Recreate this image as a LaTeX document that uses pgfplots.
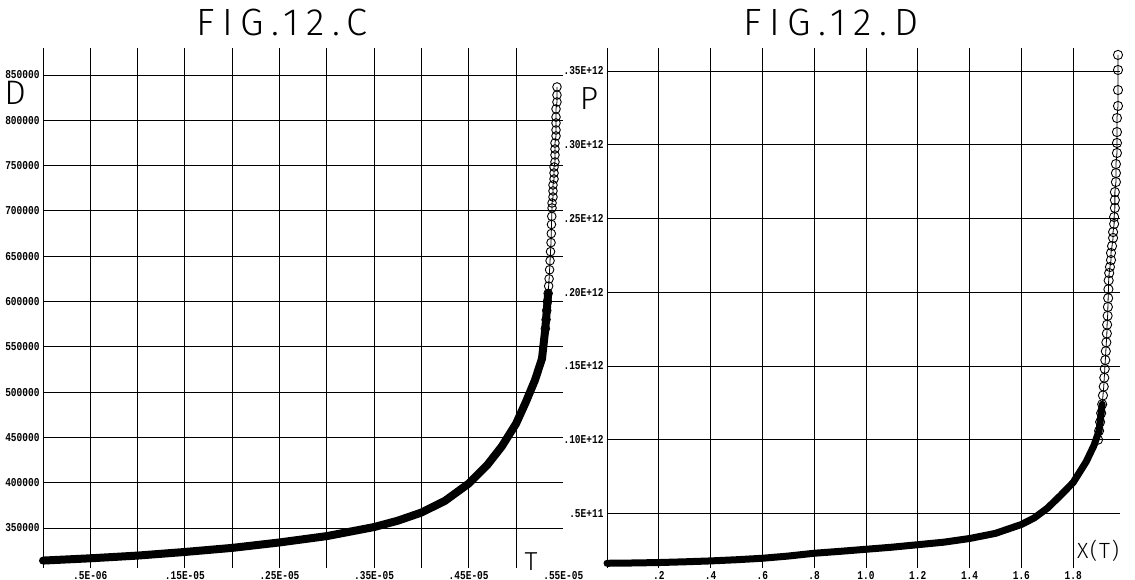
\documentclass[border=0pt]{standalone}
\usepackage{pgfplots}
\pgfplotsset{compat=1.18}
\usepackage{fontspec}
\setmainfont{Liberation Sans}
\newfontfamily\ticklab{Liberation Mono}
\newfontfamily\thin{Fira Sans Light}[LetterSpace=20]
\newfontfamily\thinb{Fira Sans Light}[LetterSpace=8]
\newcommand\tl[1]{\scalebox{0.95}[1.2]{\ticklab\bfseries\fontsize{10bp}{11bp}\selectfont #1}}

\pgfplotstableread{
T D
0.0 314000
0.5 316500
1.0 319500
1.5 323500
2.0 328000
2.5 334000
3.0 341000
3.5 351000
3.75 358000
4.0 367000
4.25 380000
4.5 399000
4.7 420000
4.85 440000
5.0 465000
5.1 488000
5.2 513000
5.275 537000
5.31 570000
5.34 609000
}\leftband

\pgfplotstableread{
T D
5.31 570000
5.318 580000
5.325 590000
5.333 600000
5.34 609000
5.345 617000
5.35 625000
5.355 635000
5.36 645000
5.365 655000
5.37 665000
5.373 675000
5.375 685000
5.378 694000
5.381 703200
5.381 708700
5.391 715300
5.391 722000
5.391 728600
5.402 735200
5.402 741800
5.402 748400
5.412 754000
5.412 761700
5.412 768300
5.412 774900
5.423 782700
5.423 789300
5.423 797000
5.423 803600
5.423 812500
5.433 820200
5.433 827900
5.433 836800
}\leftcirc

\pgfplotstableread{
X P
0.00 0.0162
0.10 0.0164
0.20 0.0167
0.30 0.0172
0.40 0.0178
0.50 0.0186
0.60 0.0196
0.70 0.0211
0.80 0.0230
0.90 0.0243
1.00 0.0257
1.10 0.0271
1.20 0.0288
1.30 0.0305
1.40 0.0330
1.50 0.0365
1.60 0.0425
1.65 0.0470
1.70 0.0535
1.75 0.0620
1.80 0.0710
1.85 0.0850
1.88 0.0960
1.90 0.1060
1.912 0.1240
}\rightband

\pgfplotstableread{
X P
1.896 0.100
1.900 0.106
1.904 0.112
1.908 0.118
1.912 0.124
1.915 0.130
1.918 0.136
1.920 0.142
1.922 0.148
1.924 0.154
1.926 0.160
1.928 0.166
1.930 0.172
1.931 0.178
1.933 0.184
1.934 0.190
1.935 0.196
1.936 0.202
1.937 0.208
1.939 0.213
1.942 0.2171
1.946 0.2218
1.946 0.2266
1.950 0.2313
1.954 0.2368
1.954 0.2408
1.958 0.2463
1.958 0.2510
1.961 0.2571
1.961 0.2625
1.961 0.2679
1.965 0.2747
1.965 0.2808
1.965 0.2869
1.969 0.2944
1.969 0.3012
1.969 0.3086
1.969 0.3181
1.973 0.3263
1.973 0.3371
1.973 0.3507
1.973 0.3609
}\rightcirc

\begin{document}
\begin{tikzpicture}
\useasboundingbox (0bp,0bp) rectangle (1135bp,580bp);

\begin{axis}[
  at={(43bp,12bp)}, anchor=south west, scale only axis,
  width=520.3bp, height=520bp,
  xmin=0, xmax=5.5, ymin=305800, ymax=879800,
  axis line style={draw=none},
  major tick length=0pt,
  xtick={0,0.5,1,1.5,2,2.5,3,3.5,4,4.5,5},
  xticklabels={},
  extra x ticks={0.5,1.5,2.5,3.5,4.5,5.5},
  extra x tick labels={\tl{.5E-06},\tl{.15E-05},\tl{.25E-05},\tl{.35E-05},\tl{.45E-05},\tl{.55E-05}},
  extra x tick style={grid=none, major tick length=0pt},
  ytick={350000,400000,450000,500000,550000,600000,650000,700000,750000,800000,850000},
  yticklabels={\tl{350000},\tl{400000},\tl{450000},\tl{500000},\tl{550000},\tl{600000},\tl{650000},\tl{700000},\tl{750000},\tl{800000},\tl{850000}},
  scaled ticks=false,
  grid=major, major grid style={black, line width=0.9bp},
  clip=false,
]
\addplot[black, line width=8bp, line cap=round, line join=round] table[x=T,y=D] {\leftband};
\addplot[black, line width=0.8bp, mark=o, mark size=4.3bp, mark options={line width=0.9bp}] table[x=T,y=D] {\leftcirc};
\end{axis}

\begin{axis}[
  at={(607bp,12bp)}, anchor=south west, scale only axis,
  width=512.8bp, height=520bp,
  xmin=0, xmax=1.98, ymin=0.0130, ymax=0.3656,
  axis line style={draw=none},
  major tick length=0pt,
  xtick={0,0.2,0.4,0.6,0.8,1.0,1.2,1.4,1.6,1.8},
  xticklabels={{},\tl{.2},\tl{.4},\tl{.6},\tl{.8},\tl{1.0},\tl{1.2},\tl{1.4},\tl{1.6},\tl{1.8}},
  ytick={0.05,0.10,0.15,0.20,0.25,0.30,0.35},
  yticklabels={\tl{.5E+11},\tl{.10E+12},\tl{.15E+12},\tl{.20E+12},\tl{.25E+12},\tl{.30E+12},\tl{.35E+12}},
  scaled ticks=false,
  grid=major, major grid style={black, line width=0.9bp},
  clip=false,
]
\addplot[black, line width=7bp, line cap=round, line join=round] table[x=X,y=P] {\rightband};
\addplot[black, line width=0.8bp, mark=o, mark size=4.6bp, mark options={line width=0.9bp}] table[x=X,y=P] {\rightcirc};
\end{axis}

\node[font=\thin\fontsize{38bp}{42bp}\selectfont, inner sep=0] at (282bp,558bp) {FIG.12.C};
\node[font=\thin\fontsize{38bp}{42bp}\selectfont, inner sep=0] at (831bp,558bp) {FIG.12.D};
\node[font=\thin\fontsize{34bp}{38bp}\selectfont, inner sep=0] at (15bp,487bp) {D};
\node[font=\thin\fontsize{32bp}{36bp}\selectfont, inner sep=0] at (589bp,481bp) {P};
\node[font=\thin\fontsize{26bp}{29bp}\selectfont, inner sep=0] at (531bp,18bp) {T};
\node[font=\thinb\fontsize{22bp}{26bp}\selectfont, inner sep=0] at (1098bp,29bp) {X(T)};
\end{tikzpicture}
\end{document}
